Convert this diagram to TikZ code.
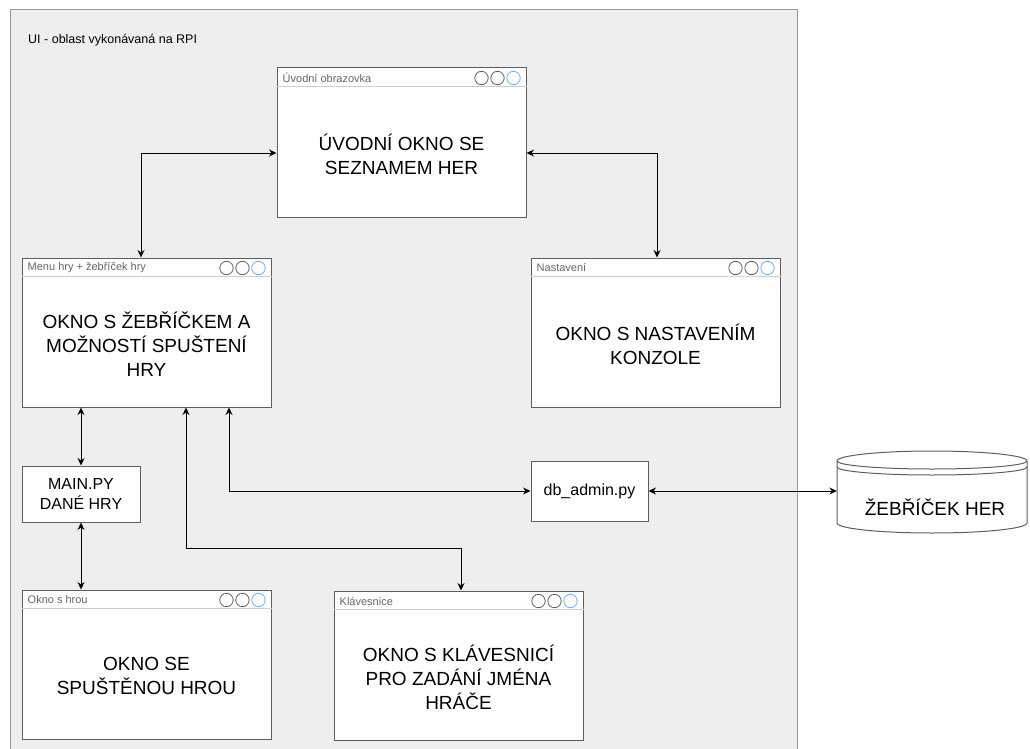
\documentclass[tikz,border=0pt]{standalone}
\usepackage{fontspec}
\setmainfont{Liberation Sans}
\usetikzlibrary{arrows.meta, calc, positioning}
\definecolor{panelfill}{HTML}{EEEEEE}
\definecolor{panelline}{HTML}{9A9A9A}
\definecolor{winline}{HTML}{5E5E5E}
\definecolor{titleline}{HTML}{CFCFCF}
\definecolor{titlegray}{HTML}{666666}
\definecolor{btnblue}{HTML}{66B2FF}

% window with title bar and three buttons
\newcommand{\uiwin}[4]{%
  \node[window] (#1) at (#2) {};
  \node[wintitle] (#1-title) at ([xshift=6pt,yshift=-10.5pt]#1.north west) {#3};
  \draw[titleline] ([yshift=-19pt]#1.north west) -- ([yshift=-19pt]#1.north east);
  \foreach \dx in {45,29}
    \draw[winbtn] ([xshift=-\dx pt,yshift=-10.5pt]#1.north east) circle (6.7pt);
  \draw[winbtn, draw=btnblue] ([xshift=-13pt,yshift=-10.5pt]#1.north east) circle (6.7pt);
  \node[wintext] (#1-text) at ([yshift=-11.5pt]#1.center) {#4};
}

\begin{document}
\begin{tikzpicture}[x=1pt, y=-1pt,
    window/.style={draw=winline, line width=1pt, fill=white, rectangle,
      minimum width=249pt, minimum height=149pt, inner sep=0pt},
    wintitle/.style={anchor=west, inner sep=0pt, text=titlegray,
      font=\fontsize{11}{13}\selectfont},
    titleline/.style={draw=titleline, line width=0.8pt},
    winbtn/.style={draw=winline, line width=0.8pt},
    wintext/.style={align=center, inner sep=0pt, font=\fontsize{19}{24}\selectfont},
    smallbox/.style={draw=winline, line width=1pt, fill=white, rectangle,
      align=center, inner sep=0pt, font=\fontsize{16}{20}\selectfont},
    link/.style={line width=1pt, {Stealth[length=7.5pt,width=7pt,inset=2.5pt]}-{Stealth[length=7.5pt,width=7pt,inset=2.5pt]}}
  ]
  \useasboundingbox (0,0) rectangle (1030,749);

  % RPI area
  \draw[panelline, fill=panelfill, line width=1pt] (10,10) rectangle (797,760);
  \node[anchor=west, inner sep=0pt, font=\fontsize{12.5}{15}\selectfont]
    (area) at (28,40) {UI - oblast vykonávaná na RPI};

  % windows
  \uiwin{uvod}{401.5,142.5}{Úvodní obrazovka}{ÚVODNÍ OKNO SE\\SEZNAMEM HER}
  \uiwin{menu}{146.5,332.5}{Menu hry + žebříček hry}{OKNO S ŽEBŘÍČKEM A\\MOŽNOSTÍ SPUŠTENÍ\\HRY}
  \uiwin{nastav}{655.5,332.5}{Nastavení}{OKNO S NASTAVENÍM\\KONZOLE}
  \uiwin{hra}{146.5,664.5}{Okno s hrou}{OKNO SE\\SPUŠTĚNOU HROU}
  \uiwin{klav}{458.5,665.5}{Klávesnice}{OKNO S KLÁVESNICÍ\\PRO ZADÁNÍ JMÉNA\\HRÁČE}

  % scripts
  \node[smallbox, minimum width=118pt, minimum height=56pt]
    (mainpy) at (81,494) {MAIN.PY\\DANÉ HRY};
  \node[smallbox, minimum width=117pt, minimum height=60pt]
    (dbadmin) at (589.5,491) {db\_admin.py};

  % database
  \draw[winline, fill=white, line width=1pt]
    (837,461) arc[start angle=180, end angle=0, x radius=95pt, y radius=10pt]
    -- (1027,523) arc[start angle=0, end angle=-180, x radius=95pt, y radius=10pt] -- cycle;
  \draw[winline, line width=1pt]
    (837,461) arc[start angle=180, end angle=360, x radius=95pt, y radius=8pt];
  \draw[winline, line width=1pt]
    (837,467) arc[start angle=180, end angle=360, x radius=95pt, y radius=8pt];
  \node[minimum width=190pt, minimum height=81pt, inner sep=0pt] (zebricek) at (932,492) {};
  \node[wintext] (zebricek-text) at ([xshift=3pt,yshift=-15pt]zebricek.center) {ŽEBŘÍČEK HER};

  % connectors
  \draw[link] ([yshift=-10.5pt]uvod.west) -| ([xshift=-5.5pt]menu.north);
  \draw[link] ([yshift=-10.5pt]uvod.east) -| ([xshift=1.5pt]nastav.north);
  \draw[link] (mainpy.north |- menu.south) -- (mainpy.north);
  \draw[link] (mainpy.south) -- (mainpy.south |- hra.north);
  \draw[link] ([xshift=39.5pt]menu.south) -- ++(0,141) -| ([xshift=2.5pt]klav.north);
  \draw[link] ([xshift=82.5pt]menu.south) |- (dbadmin.west);
  \draw[link] (dbadmin.east) -- (zebricek.west |- dbadmin.east);
\end{tikzpicture}
\end{document}
